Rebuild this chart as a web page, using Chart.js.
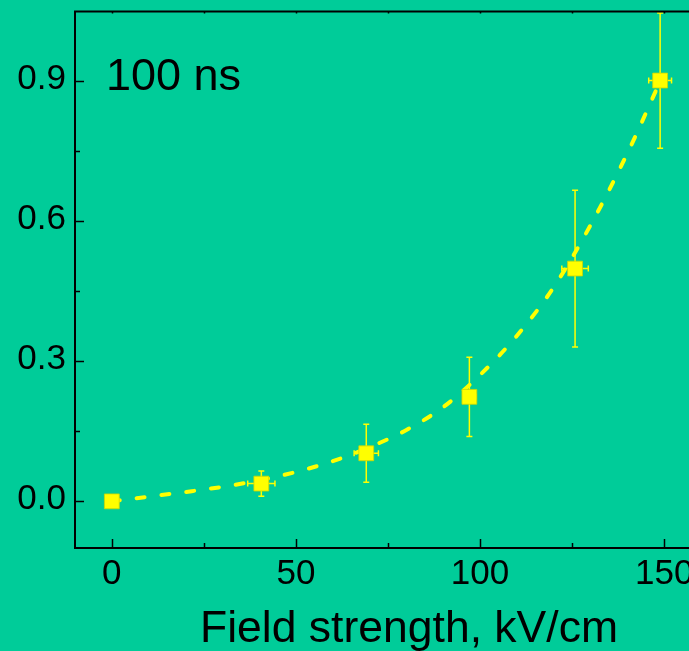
<!DOCTYPE html>
<html>
<head>
<meta charset="utf-8">
<script src="https://cdn.jsdelivr.net/npm/chart.js@4"></script>
<style>
  html, body { margin: 0; padding: 0; background: #00cc99; overflow: hidden; }
  #wrap { width: 720px; height: 651px; }
</style>
</head>
<body>
<div id="wrap"><canvas id="chart" width="720" height="651"></canvas></div>
<script>
// measured points, 100 ns pulse
const fieldKV = [0, 40.6, 69.1, 97.1, 125.8, 148.9];
const signal = [0, 0.038, 0.103, 0.224, 0.499, 0.902];
const signalErr = [0, 0.027, 0.062, 0.085, 0.168, 0.145];
const fieldErr = [0, 3.7, 3.3, 1.8, 3.6, 3.1];

// fit curve samples
const fitX = [0, 10, 20, 30, 40, 50, 60, 70, 80, 90, 100, 110, 120, 130, 140, 149];
const fitY = [0, 0.010, 0.020, 0.031, 0.045, 0.063, 0.086, 0.116, 0.153, 0.202, 0.271, 0.355, 0.459, 0.592, 0.746, 0.902];

// axis ticks
const xTicks = [0, 50, 100, 150];
const xMinor = [25, 75, 125];
const yTicks = [0, 0.3, 0.6, 0.9];
const yMinor = [0.15, 0.45, 0.75];

const BG = '#00cc99';
const YELLOW = '#ffff00';
const FONT = '"Liberation Sans", Arial, sans-serif';

const framePlugin = {
    id: 'frame',
    beforeDraw(chart) {
        const ctx = chart.ctx;
        ctx.save();
        ctx.fillStyle = BG;
        ctx.fillRect(0, 0, chart.width, chart.height);
        ctx.restore();
    },
    beforeDatasetsDraw(chart) {
        // error bars under the markers
        const ctx = chart.ctx;
        const xs = chart.scales.x, ys = chart.scales.y;
        ctx.save();
        ctx.strokeStyle = YELLOW;
        ctx.lineWidth = 1.5;
        fieldKV.forEach((fx, i) => {
            const px = xs.getPixelForValue(fx);
            const py = ys.getPixelForValue(signal[i]);
            if (signalErr[i] > 0) {
                const t = ys.getPixelForValue(signal[i] + signalErr[i]);
                const b = ys.getPixelForValue(signal[i] - signalErr[i]);
                ctx.beginPath();
                ctx.moveTo(px, t); ctx.lineTo(px, b);
                ctx.moveTo(px - 3, t); ctx.lineTo(px + 3, t);
                ctx.moveTo(px - 3, b); ctx.lineTo(px + 3, b);
                ctx.stroke();
            }
            if (fieldErr[i] > 0) {
                const l = xs.getPixelForValue(fx - fieldErr[i]);
                const r = xs.getPixelForValue(fx + fieldErr[i]);
                ctx.beginPath();
                ctx.moveTo(l, py); ctx.lineTo(r, py);
                ctx.moveTo(l, py - 3); ctx.lineTo(l, py + 3);
                ctx.moveTo(r, py - 3); ctx.lineTo(r, py + 3);
                ctx.stroke();
            }
        });
        ctx.restore();
    },
    afterDraw(chart) {
        const ctx = chart.ctx;
        const a = chart.chartArea;
        const xs = chart.scales.x, ys = chart.scales.y;
        ctx.save();
        ctx.strokeStyle = '#000';
        ctx.lineWidth = 2;
        ctx.beginPath();
        ctx.moveTo(a.right, a.top); ctx.lineTo(a.left, a.top);
        ctx.lineTo(a.left, a.bottom); ctx.lineTo(a.right, a.bottom);
        ctx.stroke();

        // inward ticks
        ctx.lineWidth = 1.5;
        ctx.beginPath();
        xTicks.concat(xMinor).forEach(v => {
            const px = Math.round(xs.getPixelForValue(v)) + 0.5;
            const len = xTicks.includes(v) ? 9 : 5;
            ctx.moveTo(px, a.bottom); ctx.lineTo(px, a.bottom - len);
            ctx.moveTo(px, a.top); ctx.lineTo(px, a.top + 2);
        });
        yTicks.concat(yMinor).forEach(v => {
            const py = Math.round(ys.getPixelForValue(v)) + 0.5;
            const len = yTicks.includes(v) ? 9 : 5;
            ctx.moveTo(a.left, py); ctx.lineTo(a.left + len, py);
        });
        ctx.stroke();

        ctx.fillStyle = '#000';
        ctx.textBaseline = 'alphabetic';
        ctx.font = '45px ' + FONT;
        ctx.textAlign = 'left';
        ctx.fillText('100 ns', a.left + 31, a.top + 78);
        ctx.font = '44.5px ' + FONT;
        ctx.textAlign = 'center';
        ctx.fillText('Field strength, kV/cm', 409, 642);
        ctx.restore();
    }
};

new Chart(document.getElementById('chart'), {
    type: 'scatter',
    data: {
        datasets: [{
            label: 'data',
            data: fieldKV.map((x, i) => ({x: x, y: signal[i]})),
            pointStyle: 'rect',
            pointRadius: 10.5,
            pointBackgroundColor: YELLOW,
            pointBorderColor: 'rgba(205, 215, 0, 0.8)',
            pointBorderWidth: 1,
            showLine: false,
            order: 0
        }, {
            label: 'fit',
            data: fitX.map((x, i) => ({x: x, y: fitY[i]})),
            showLine: true,
            borderColor: YELLOW,
            borderWidth: 4,
            borderDash: [8, 17],
            borderCapStyle: 'round',
            cubicInterpolationMode: 'monotone',
            pointRadius: 0,
            order: 1
        }]
    },
    options: {
        responsive: false,
        animation: false,
        devicePixelRatio: 1,
        layout: { padding: { top: 10, right: 19, left: 0, bottom: 0 } },
        plugins: { legend: { display: false }, tooltip: { enabled: false } },
        scales: {
            x: {
                type: 'linear',
                min: -10,
                max: 160,
                grid: { display: false, drawTicks: false },
                border: { display: false },
                afterBuildTicks: s => { s.ticks = xTicks.map(v => ({value: v})); },
                afterFit: s => {
                    s.height = 103;
                    s.paddingLeft = 0;
                    s.paddingRight = 0;
                },
                ticks: {
                    padding: 5,
                    color: '#000',
                    font: { family: FONT, size: 35 },
                    callback: v => String(v)
                }
            },
            y: {
                type: 'linear',
                min: -0.1,
                max: 1.05,
                grid: { display: false, drawTicks: false },
                border: { display: false },
                afterBuildTicks: s => { s.ticks = yTicks.map(v => ({value: v})); },
                afterFit: s => {
                    s.width = 75;
                    s.paddingTop = 0;
                    s.paddingBottom = 0;
                },
                ticks: {
                    padding: 9,
                    labelOffset: -2,
                    color: '#000',
                    font: { family: FONT, size: 35 },
                    callback: v => Number(v).toFixed(1)
                }
            }
        }
    },
    plugins: [framePlugin]
});
</script>
</body>
</html>
